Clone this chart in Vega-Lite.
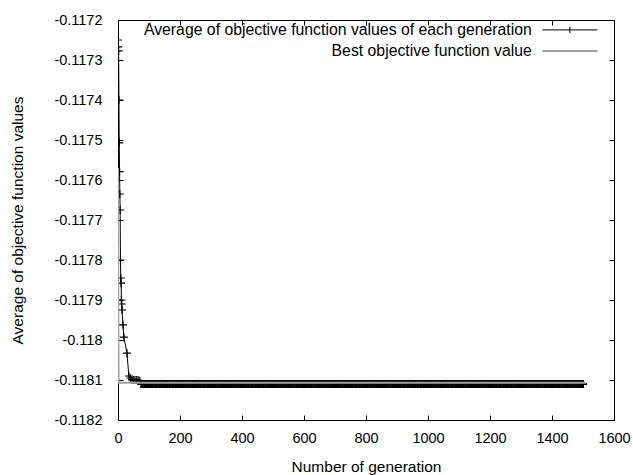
{
  "$schema": "https://vega.github.io/schema/vega-lite/v6.json",
  "width": 496,
  "height": 400,
  "autosize": "none",
  "padding": {"left": 118, "top": 20, "right": 19, "bottom": 55},
  "background": "white",
  "config": {
    "view": {"stroke": "#000000", "strokeWidth": 1},
    "font": "Liberation Sans",
    "axis": {"domain": false, "grid": false, "labelFont": "Liberation Sans", "titleFont": "Liberation Sans", "labelFontSize": 14.5, "titleFontSize": 15.5, "labelColor": "#000000", "titleColor": "#000000", "titleFontWeight": "normal", "tickColor": "#000000", "tickSize": -5, "tickWidth": 1}
  },
  "datasets": {
    "avg": [
      {"g":0,"v":-0.11725},{"g":1,"v":-0.117267},{"g":2,"v":-0.117277},{"g":3,"v":-0.1174},{"g":4,"v":-0.117507},{"g":5,"v":-0.117579},{"g":6,"v":-0.117635},{"g":7,"v":-0.117675},{"g":8,"v":-0.1178},{"g":9,"v":-0.117845},{"g":10,"v":-0.117858},{"g":11,"v":-0.1179},{"g":12,"v":-0.11791},{"g":13,"v":-0.117925},{"g":16,"v":-0.117962},{"g":19,"v":-0.117993},{"g":29,"v":-0.118033},{"g":35,"v":-0.11809},{"g":40,"v":-0.118095},{"g":45,"v":-0.1181},{"g":50,"v":-0.1181},{"g":55,"v":-0.1181},{"g":60,"v":-0.1181},{"g":65,"v":-0.1181},{"g":70,"v":-0.118102},
      {"g":75,"v":-0.11811},{"g":80,"v":-0.11811},{"g":85,"v":-0.11811},{"g":90,"v":-0.11811},{"g":95,"v":-0.11811},{"g":100,"v":-0.11811},{"g":105,"v":-0.11811},{"g":110,"v":-0.11811},{"g":115,"v":-0.11811},{"g":120,"v":-0.11811},{"g":125,"v":-0.11811},{"g":130,"v":-0.11811},{"g":135,"v":-0.11811},{"g":140,"v":-0.11811},{"g":145,"v":-0.11811},{"g":150,"v":-0.11811},{"g":155,"v":-0.11811},{"g":160,"v":-0.11811},{"g":165,"v":-0.11811},{"g":170,"v":-0.11811},{"g":175,"v":-0.11811},{"g":180,"v":-0.11811},{"g":185,"v":-0.11811},{"g":190,"v":-0.11811},{"g":195,"v":-0.11811},{"g":200,"v":-0.11811},{"g":205,"v":-0.11811},{"g":210,"v":-0.11811},{"g":215,"v":-0.11811},{"g":220,"v":-0.11811},{"g":225,"v":-0.11811},{"g":230,"v":-0.11811},{"g":235,"v":-0.11811},{"g":240,"v":-0.11811},{"g":245,"v":-0.11811},{"g":250,"v":-0.11811},{"g":255,"v":-0.11811},{"g":260,"v":-0.11811},{"g":265,"v":-0.11811},{"g":270,"v":-0.11811},{"g":275,"v":-0.11811},{"g":280,"v":-0.11811},{"g":285,"v":-0.11811},{"g":290,"v":-0.11811},{"g":295,"v":-0.11811},{"g":300,"v":-0.11811},{"g":305,"v":-0.11811},{"g":310,"v":-0.11811},{"g":315,"v":-0.11811},{"g":320,"v":-0.11811},{"g":325,"v":-0.11811},{"g":330,"v":-0.11811},{"g":335,"v":-0.11811},{"g":340,"v":-0.11811},{"g":345,"v":-0.11811},{"g":350,"v":-0.11811},{"g":355,"v":-0.11811},{"g":360,"v":-0.11811},{"g":365,"v":-0.11811},{"g":370,"v":-0.11811},{"g":375,"v":-0.11811},{"g":380,"v":-0.11811},{"g":385,"v":-0.11811},{"g":390,"v":-0.11811},{"g":395,"v":-0.11811},{"g":400,"v":-0.11811},{"g":405,"v":-0.11811},{"g":410,"v":-0.11811},{"g":415,"v":-0.11811},{"g":420,"v":-0.11811},{"g":425,"v":-0.11811},{"g":430,"v":-0.11811},{"g":435,"v":-0.11811},{"g":440,"v":-0.11811},{"g":445,"v":-0.11811},{"g":450,"v":-0.11811},{"g":455,"v":-0.11811},{"g":460,"v":-0.11811},{"g":465,"v":-0.11811},{"g":470,"v":-0.11811},{"g":475,"v":-0.11811},{"g":480,"v":-0.11811},{"g":485,"v":-0.11811},{"g":490,"v":-0.11811},{"g":495,"v":-0.11811},{"g":500,"v":-0.11811},{"g":505,"v":-0.11811},{"g":510,"v":-0.11811},{"g":515,"v":-0.11811},{"g":520,"v":-0.11811},{"g":525,"v":-0.11811},{"g":530,"v":-0.11811},{"g":535,"v":-0.11811},{"g":540,"v":-0.11811},{"g":545,"v":-0.11811},{"g":550,"v":-0.11811},{"g":555,"v":-0.11811},{"g":560,"v":-0.11811},{"g":565,"v":-0.11811},{"g":570,"v":-0.11811},{"g":575,"v":-0.11811},{"g":580,"v":-0.11811},{"g":585,"v":-0.11811},{"g":590,"v":-0.11811},{"g":595,"v":-0.11811},{"g":600,"v":-0.11811},{"g":605,"v":-0.11811},{"g":610,"v":-0.11811},{"g":615,"v":-0.11811},{"g":620,"v":-0.11811},{"g":625,"v":-0.11811},{"g":630,"v":-0.11811},{"g":635,"v":-0.11811},{"g":640,"v":-0.11811},{"g":645,"v":-0.11811},{"g":650,"v":-0.11811},{"g":655,"v":-0.11811},{"g":660,"v":-0.11811},{"g":665,"v":-0.11811},{"g":670,"v":-0.11811},{"g":675,"v":-0.11811},{"g":680,"v":-0.11811},{"g":685,"v":-0.11811},{"g":690,"v":-0.11811},{"g":695,"v":-0.11811},{"g":700,"v":-0.11811},{"g":705,"v":-0.11811},{"g":710,"v":-0.11811},{"g":715,"v":-0.11811},{"g":720,"v":-0.11811},{"g":725,"v":-0.11811},{"g":730,"v":-0.11811},{"g":735,"v":-0.11811},{"g":740,"v":-0.11811},{"g":745,"v":-0.11811},{"g":750,"v":-0.11811},{"g":755,"v":-0.11811},{"g":760,"v":-0.11811},{"g":765,"v":-0.11811},{"g":770,"v":-0.11811},{"g":775,"v":-0.11811},{"g":780,"v":-0.11811},{"g":785,"v":-0.11811},{"g":790,"v":-0.11811},{"g":795,"v":-0.11811},{"g":800,"v":-0.11811},{"g":805,"v":-0.11811},{"g":810,"v":-0.11811},{"g":815,"v":-0.11811},{"g":820,"v":-0.11811},{"g":825,"v":-0.11811},{"g":830,"v":-0.11811},{"g":835,"v":-0.11811},{"g":840,"v":-0.11811},{"g":845,"v":-0.11811},{"g":850,"v":-0.11811},{"g":855,"v":-0.11811},{"g":860,"v":-0.11811},{"g":865,"v":-0.11811},{"g":870,"v":-0.11811},{"g":875,"v":-0.11811},{"g":880,"v":-0.11811},{"g":885,"v":-0.11811},{"g":890,"v":-0.11811},{"g":895,"v":-0.11811},{"g":900,"v":-0.11811},{"g":905,"v":-0.11811},{"g":910,"v":-0.11811},{"g":915,"v":-0.11811},{"g":920,"v":-0.11811},{"g":925,"v":-0.11811},{"g":930,"v":-0.11811},{"g":935,"v":-0.11811},{"g":940,"v":-0.11811},{"g":945,"v":-0.11811},{"g":950,"v":-0.11811},{"g":955,"v":-0.11811},{"g":960,"v":-0.11811},{"g":965,"v":-0.11811},{"g":970,"v":-0.11811},{"g":975,"v":-0.11811},{"g":980,"v":-0.11811},{"g":985,"v":-0.11811},{"g":990,"v":-0.11811},{"g":995,"v":-0.11811},{"g":1000,"v":-0.11811},{"g":1005,"v":-0.11811},{"g":1010,"v":-0.11811},{"g":1015,"v":-0.11811},{"g":1020,"v":-0.11811},{"g":1025,"v":-0.11811},{"g":1030,"v":-0.11811},{"g":1035,"v":-0.11811},{"g":1040,"v":-0.11811},{"g":1045,"v":-0.11811},{"g":1050,"v":-0.11811},{"g":1055,"v":-0.11811},{"g":1060,"v":-0.11811},{"g":1065,"v":-0.11811},{"g":1070,"v":-0.11811},{"g":1075,"v":-0.11811},{"g":1080,"v":-0.11811},{"g":1085,"v":-0.11811},{"g":1090,"v":-0.11811},{"g":1095,"v":-0.11811},{"g":1100,"v":-0.11811},{"g":1105,"v":-0.11811},{"g":1110,"v":-0.11811},{"g":1115,"v":-0.11811},{"g":1120,"v":-0.11811},{"g":1125,"v":-0.11811},{"g":1130,"v":-0.11811},{"g":1135,"v":-0.11811},{"g":1140,"v":-0.11811},{"g":1145,"v":-0.11811},{"g":1150,"v":-0.11811},{"g":1155,"v":-0.11811},{"g":1160,"v":-0.11811},{"g":1165,"v":-0.11811},{"g":1170,"v":-0.11811},{"g":1175,"v":-0.11811},{"g":1180,"v":-0.11811},{"g":1185,"v":-0.11811},{"g":1190,"v":-0.11811},{"g":1195,"v":-0.11811},{"g":1200,"v":-0.11811},{"g":1205,"v":-0.11811},{"g":1210,"v":-0.11811},{"g":1215,"v":-0.11811},{"g":1220,"v":-0.11811},{"g":1225,"v":-0.11811},{"g":1230,"v":-0.11811},{"g":1235,"v":-0.11811},{"g":1240,"v":-0.11811},{"g":1245,"v":-0.11811},{"g":1250,"v":-0.11811},{"g":1255,"v":-0.11811},{"g":1260,"v":-0.11811},{"g":1265,"v":-0.11811},{"g":1270,"v":-0.11811},{"g":1275,"v":-0.11811},{"g":1280,"v":-0.11811},{"g":1285,"v":-0.11811},{"g":1290,"v":-0.11811},{"g":1295,"v":-0.11811},{"g":1300,"v":-0.11811},{"g":1305,"v":-0.11811},{"g":1310,"v":-0.11811},{"g":1315,"v":-0.11811},{"g":1320,"v":-0.11811},{"g":1325,"v":-0.11811},{"g":1330,"v":-0.11811},{"g":1335,"v":-0.11811},{"g":1340,"v":-0.11811},{"g":1345,"v":-0.11811},{"g":1350,"v":-0.11811},{"g":1355,"v":-0.11811},{"g":1360,"v":-0.11811},{"g":1365,"v":-0.11811},{"g":1370,"v":-0.11811},{"g":1375,"v":-0.11811},{"g":1380,"v":-0.11811},{"g":1385,"v":-0.11811},{"g":1390,"v":-0.11811},{"g":1395,"v":-0.11811},{"g":1400,"v":-0.11811},{"g":1405,"v":-0.11811},{"g":1410,"v":-0.11811},{"g":1415,"v":-0.11811},{"g":1420,"v":-0.11811},{"g":1425,"v":-0.11811},{"g":1430,"v":-0.11811},{"g":1435,"v":-0.11811},{"g":1440,"v":-0.11811},{"g":1445,"v":-0.11811},{"g":1450,"v":-0.11811},{"g":1455,"v":-0.11811},{"g":1460,"v":-0.11811},{"g":1465,"v":-0.11811},{"g":1470,"v":-0.11811},{"g":1475,"v":-0.11811},{"g":1480,"v":-0.11811},{"g":1485,"v":-0.11811},{"g":1490,"v":-0.11811},{"g":1495,"v":-0.11811},{"g":1500,"v":-0.11811}
    ],
    "best": [
      {"g":0,"v":-0.11757},{"g":1,"v":-0.11795},{"g":2,"v":-0.118107},{"g":1510,"v":-0.118107}
    ]
  },
  "layer": [
    {
      "data": {"name": "avg"},
      "mark": {"type": "line", "strokeWidth": 1, "clip": true},
      "encoding": {
        "x": {"field": "g", "type": "quantitative", "scale": {"domain": [0, 1600], "nice": false, "zero": false},
              "axis": {"orient": "bottom", "values": [0,200,400,600,800,1000,1200,1400,1600], "format": "d", "title": "Number of generation", "labelPadding": 16, "titlePadding": 15, "labelFlush": false}},
        "y": {"field": "v", "type": "quantitative", "scale": {"domain": [-0.1182, -0.1172], "nice": false, "zero": false},
              "axis": {"orient": "left", "values": [-0.1182,-0.1181,-0.118,-0.1179,-0.1178,-0.1177,-0.1176,-0.1175,-0.1174,-0.1173,-0.1172], "labelExpr": "replace(format(datum.value, '.4~f'), '\u2212', '-')", "title": "Average of objective function values", "labelPadding": 21, "titlePadding": 28, "labelFlush": false}},
        "color": {"datum": "Average of objective function values of each generation", "type": "nominal",
                  "scale": {"domain": ["Average of objective function values of each generation", "Best objective function value"], "range": ["#000000", "#a0a0a0"]},
                  "legend": {"orient": "none", "legendX": 444, "legendY": 2, "title": null, "padding": 0, "labelAlign": "right", "labelOffset": -46, "labelFontSize": 15.8, "labelFont": "Liberation Sans", "labelColor": "#000000", "labelLimit": 1000, "symbolSize": 62, "rowPadding": 4, "symbolStrokeWidth": 1,
                             "encode": {"symbols": {"update": {"shape": {"signal": "datum.value === 'Best objective function value' ? 'M-7,0H7' : 'M-7,0H7M0,-0.8V0.8'"}, "strokeWidth": {"signal": "datum.value === 'Best objective function value' ? 2 : 1"}}}}}}
      }
    },
    {
      "data": {"name": "avg"},
      "mark": {"type": "point", "shape": "M-1,0H1M0,-1V1", "size": 64, "filled": false, "stroke": "#000000", "opacity": 1, "clip": true},
      "encoding": {
        "x": {"field": "g", "type": "quantitative", "axis": null},
        "y": {"field": "v", "type": "quantitative", "axis": null},
        "strokeWidth": {"condition": {"test": "datum.g < 75", "value": 1.2}, "value": 2}
      }
    },
    {
      "data": {"name": "best"},
      "mark": {"type": "line", "strokeWidth": 2, "clip": true},
      "encoding": {
        "x": {"field": "g", "type": "quantitative", "axis": {"orient": "top", "values": [0,200,400,600,800,1000,1200,1400,1600], "labels": false, "title": null}},
        "y": {"field": "v", "type": "quantitative", "axis": {"orient": "right", "values": [-0.1182,-0.1181,-0.118,-0.1179,-0.1178,-0.1177,-0.1176,-0.1175,-0.1174,-0.1173,-0.1172], "labels": false, "title": null}},
        "color": {"datum": "Best objective function value", "type": "nominal"}
      }
    }
  ],
  "resolve": {"axis": {"x": "independent", "y": "independent"}}
}
